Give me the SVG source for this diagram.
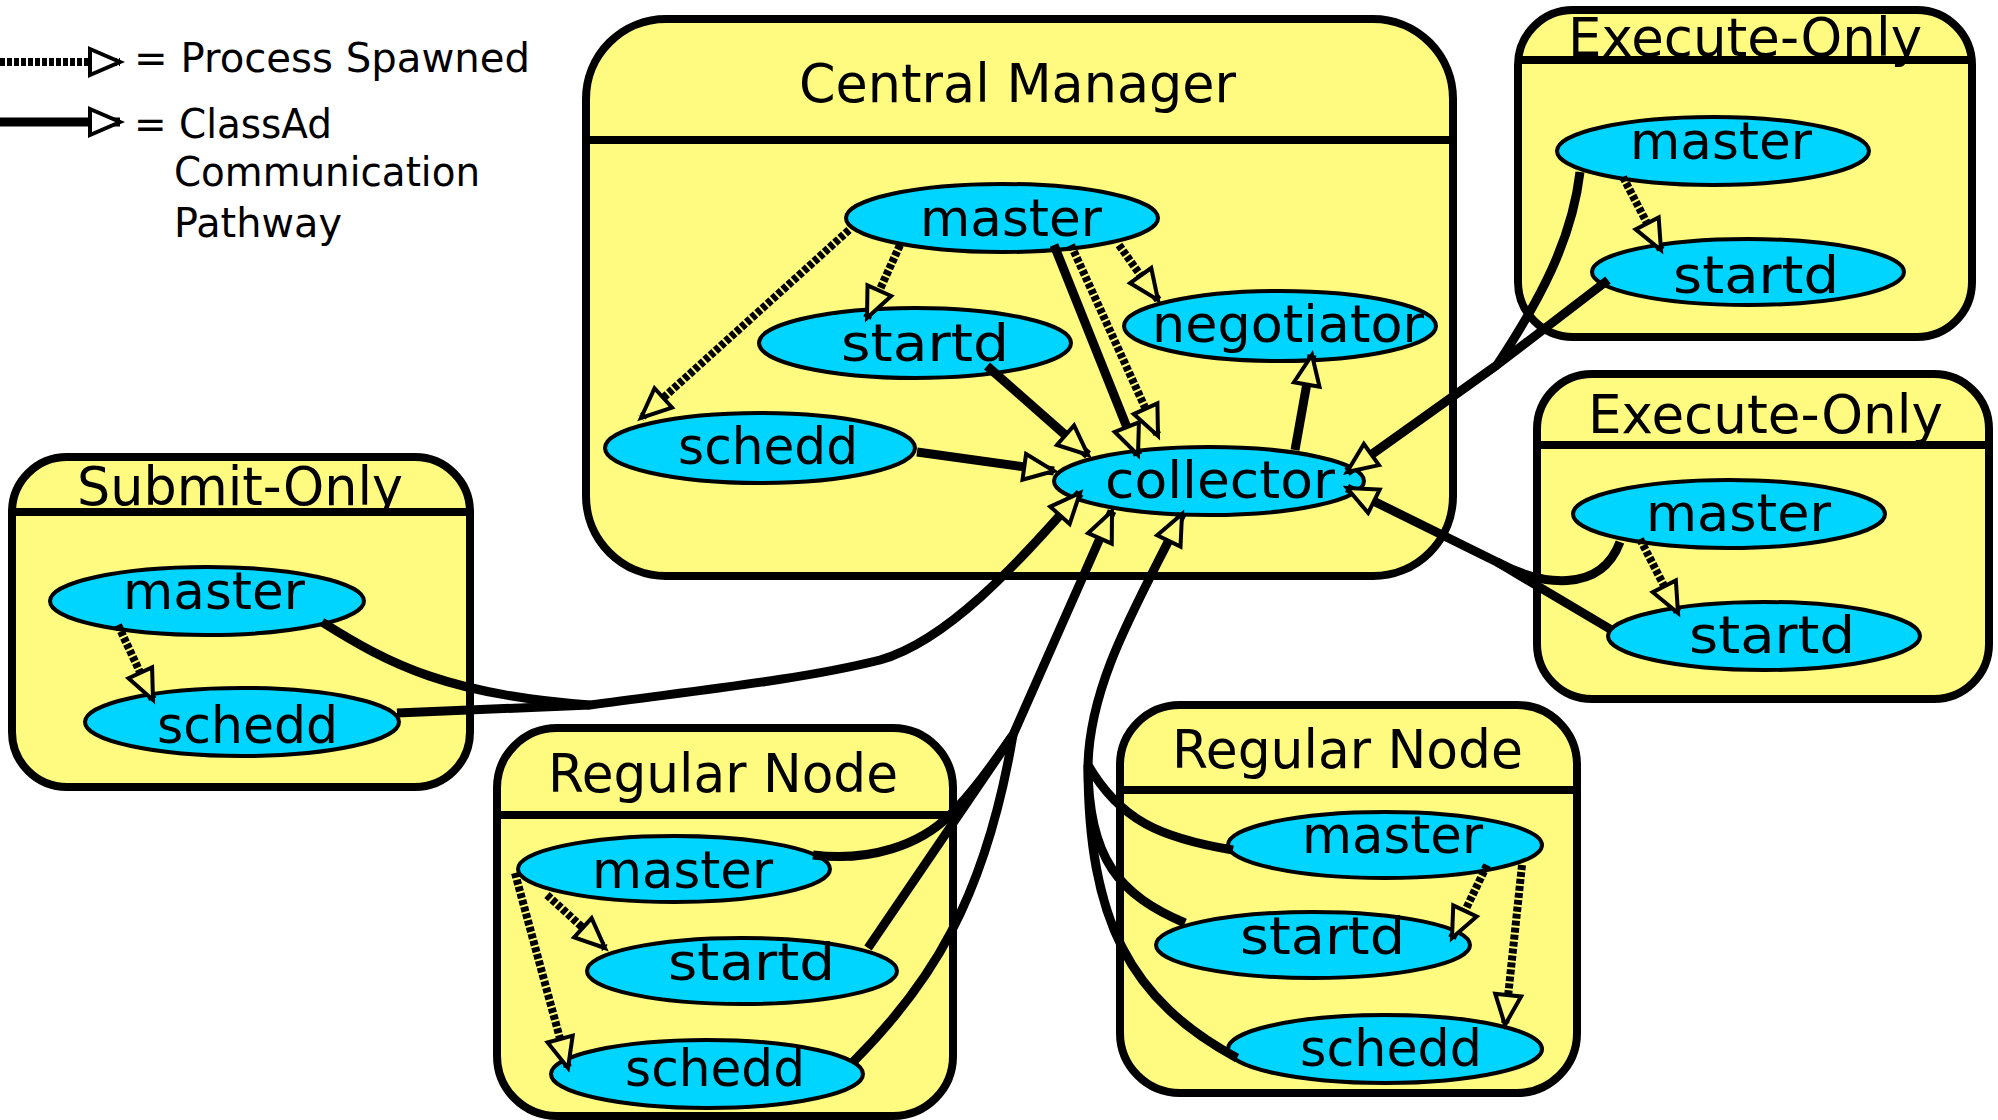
<svg xmlns="http://www.w3.org/2000/svg" width="1998" height="1120" viewBox="0 0 1998 1120">
<defs>
<style>
.box{fill:#FFFA80;stroke:#000;stroke-width:8}
.hdr{stroke:#000;stroke-width:8;fill:none}
.proc{fill:#00D5FF;stroke:#000;stroke-width:4}
text{font-family:"DejaVu Sans","Liberation Sans",sans-serif;fill:#000}
.t{font-size:52px}
.ttl{font-size:54px}
.leg{font-size:40px}
.sol{fill:none;stroke:#000;stroke-width:9;stroke-linejoin:round}
.dot{fill:none;stroke:#000;stroke-width:8;stroke-dasharray:5 2}
.a{marker-end:url(#ah)}
.aw{marker-end:url(#ahw)}
.head{fill:#FFFA80;stroke:#000;stroke-width:4;stroke-linejoin:miter}
.headw{fill:#fff;stroke:#000;stroke-width:4;stroke-linejoin:miter}
</style>
<marker id="ah" markerUnits="userSpaceOnUse" viewBox="-4 -4 40 34" refX="30" refY="13" markerWidth="40" markerHeight="34" orient="auto"><path class="head" d="M0,0 L30,13 L0,26 Z"/></marker>
<marker id="ahw" markerUnits="userSpaceOnUse" viewBox="-4 -4 40 34" refX="30" refY="13" markerWidth="40" markerHeight="34" orient="auto"><path class="headw" d="M0,0 L30,13 L0,26 Z"/></marker>
</defs>
<rect width="1998" height="1120" fill="#fff"/>

<g id="legend">
<path class="dot aw" d="M0,62 L120,62"/>
<path class="sol aw" d="M0,122 L120,122"/>
<text class="leg" x="134" y="72" textLength="396" lengthAdjust="spacingAndGlyphs">= Process Spawned</text>
<text class="leg" x="134" y="138" textLength="198" lengthAdjust="spacingAndGlyphs">= ClassAd</text>
<text class="leg" x="174" y="186" textLength="306" lengthAdjust="spacingAndGlyphs">Communication</text>
<text class="leg" x="174" y="237" textLength="168" lengthAdjust="spacingAndGlyphs">Pathway</text>
</g>

<g id="central-manager">
<rect class="box" x="586" y="19" width="867" height="557" rx="80"/>
<line class="hdr" x1="586" y1="140" x2="1453" y2="140"/>
<text class="ttl" x="799" y="102" textLength="437" lengthAdjust="spacingAndGlyphs">Central Manager</text>
<g id="cm-master"><ellipse class="proc" cx="1002" cy="218" rx="156" ry="34"/><text class="t" x="920" y="236" textLength="182" lengthAdjust="spacingAndGlyphs">master</text></g>
<g id="cm-startd"><ellipse class="proc" cx="915" cy="343" rx="156" ry="35"/><text class="t" x="841" y="361" textLength="168" lengthAdjust="spacingAndGlyphs">startd</text></g>
<g id="cm-negotiator"><ellipse class="proc" cx="1280" cy="326" rx="156" ry="35"/><text class="t" x="1152" y="342" textLength="272" lengthAdjust="spacingAndGlyphs">negotiator</text></g>
<g id="cm-schedd"><ellipse class="proc" cx="760" cy="448" rx="155" ry="35"/><text class="t" x="678" y="464" textLength="180" lengthAdjust="spacingAndGlyphs">schedd</text></g>
<g id="cm-collector"><ellipse class="proc" cx="1209" cy="481" rx="155" ry="34"/><text class="t" x="1105" y="498" textLength="230" lengthAdjust="spacingAndGlyphs">collector</text></g>
</g>

<g id="execute-only-1">
<rect class="box" x="1518" y="10" width="454" height="327" rx="55"/>
<line class="hdr" x1="1518" y1="60" x2="1972" y2="60"/>
<text class="ttl" x="1568" y="56" textLength="354" lengthAdjust="spacingAndGlyphs">Execute-Only</text>
<g id="eo1-master"><ellipse class="proc" cx="1713" cy="151" rx="156" ry="34"/><text class="t" x="1630" y="159" textLength="182" lengthAdjust="spacingAndGlyphs">master</text></g>
<g id="eo1-startd"><ellipse class="proc" cx="1748" cy="272" rx="156" ry="33"/><text class="t" x="1673" y="293" textLength="166" lengthAdjust="spacingAndGlyphs">startd</text></g>
</g>

<g id="execute-only-2">
<rect class="box" x="1537" y="374" width="452" height="325" rx="55"/>
<line class="hdr" x1="1537" y1="445" x2="1989" y2="445"/>
<text class="ttl" x="1588" y="433" textLength="355" lengthAdjust="spacingAndGlyphs">Execute-Only</text>
<g id="eo2-master"><ellipse class="proc" cx="1729" cy="514" rx="156" ry="34"/><text class="t" x="1646" y="531" textLength="185" lengthAdjust="spacingAndGlyphs">master</text></g>
<g id="eo2-startd"><ellipse class="proc" cx="1764" cy="636" rx="156" ry="34"/><text class="t" x="1689" y="653" textLength="166" lengthAdjust="spacingAndGlyphs">startd</text></g>
</g>

<g id="submit-only">
<rect class="box" x="12" y="457" width="458" height="330" rx="55"/>
<line class="hdr" x1="12" y1="512" x2="470" y2="512"/>
<text class="ttl" x="77" y="505" textLength="326" lengthAdjust="spacingAndGlyphs">Submit-Only</text>
<g id="so-master"><ellipse class="proc" cx="207" cy="601" rx="157" ry="34"/><text class="t" x="123" y="609" textLength="182" lengthAdjust="spacingAndGlyphs">master</text></g>
<g id="so-schedd"><ellipse class="proc" cx="242" cy="722" rx="157" ry="34"/><text class="t" x="157" y="743" textLength="181" lengthAdjust="spacingAndGlyphs">schedd</text></g>
</g>

<g id="regular-node-1">
<rect class="box" x="497" y="728" width="456" height="388" rx="60"/>
<line class="hdr" x1="497" y1="815" x2="953" y2="815"/>
<text class="ttl" x="548" y="792" textLength="350" lengthAdjust="spacingAndGlyphs">Regular Node</text>
<g id="rn1-master"><ellipse class="proc" cx="674" cy="869" rx="156" ry="33"/><text class="t" x="592" y="888" textLength="181" lengthAdjust="spacingAndGlyphs">master</text></g>
<g id="rn1-startd"><ellipse class="proc" cx="742" cy="971" rx="155" ry="33"/><text class="t" x="668" y="980" textLength="167" lengthAdjust="spacingAndGlyphs">startd</text></g>
<g id="rn1-schedd"><ellipse class="proc" cx="707" cy="1074" rx="156" ry="34"/><text class="t" x="625" y="1086" textLength="180" lengthAdjust="spacingAndGlyphs">schedd</text></g>
</g>

<g id="regular-node-2">
<rect class="box" x="1120" y="705" width="457" height="388" rx="60"/>
<line class="hdr" x1="1120" y1="790" x2="1577" y2="790"/>
<text class="ttl" x="1172" y="768" textLength="351" lengthAdjust="spacingAndGlyphs">Regular Node</text>
<g id="rn2-master"><ellipse class="proc" cx="1385" cy="845" rx="157" ry="33"/><text class="t" x="1302" y="853" textLength="181" lengthAdjust="spacingAndGlyphs">master</text></g>
<g id="rn2-startd"><ellipse class="proc" cx="1313" cy="945" rx="157" ry="33"/><text class="t" x="1240" y="954" textLength="165" lengthAdjust="spacingAndGlyphs">startd</text></g>
<g id="rn2-schedd"><ellipse class="proc" cx="1385" cy="1049" rx="157" ry="34"/><text class="t" x="1300" y="1066" textLength="182" lengthAdjust="spacingAndGlyphs">schedd</text></g>
</g>

<g id="connectors">
<path class="dot a" d="M849,230 L641,418"/>
<path class="dot a" d="M900,245 L867,318"/>
<path class="dot a" d="M1119,245 L1158,300"/>
<path class="dot a" d="M1071,245 L1158,436"/>
<path class="sol a" d="M1054,245 L1138,455"/>
<path class="sol a" d="M987,366 L1088,455"/>
<path class="sol a" d="M917,452 L1054,471"/>
<path class="sol a" d="M1295,450 L1312,355"/>

<path class="sol" d="M1580,172 C1572,240 1540,300 1497,365"/>
<path class="sol a" d="M1608,280 L1497,365 L1347,472"/>
<path class="sol" d="M1620,542 C1600,595 1540,585 1497,562"/>
<path class="sol a" d="M1610,629 L1497,562 L1347,488"/>

<path class="sol" d="M322,622 C390,665 450,695 590,705"/>
<path class="sol a" d="M397,713 L590,705 C700,690 800,680 880,660 C950,640 1020,560 1080,493"/>

<path class="sol" d="M813,855 C870,862 920,845 950,815 C975,790 995,760 1013,735"/>
<path class="sol" d="M853,1062 C930,985 985,900 1013,735"/>
<path class="sol a" d="M868,948 L1013,735 L1112,511"/>

<path class="sol" d="M1233,850 C1160,838 1120,820 1088,765"/>
<path class="sol" d="M1185,923 C1120,895 1088,860 1088,765"/>
<path class="sol a" d="M1237,1058 C1130,1000 1088,920 1088,765 C1090,680 1140,600 1182,514"/>

<path class="dot a" d="M118,625 L153,700"/>
<path class="dot a" d="M1623,177 L1661,250"/>
<path class="dot a" d="M1640,539 L1678,613"/>
<path class="dot a" d="M547,895 L605,948"/>
<path class="dot a" d="M515,873 L568,1068"/>
<path class="dot a" d="M1487,865 L1452,938"/>
<path class="dot a" d="M1522,865 L1505,1025"/>
</g>
</svg>
